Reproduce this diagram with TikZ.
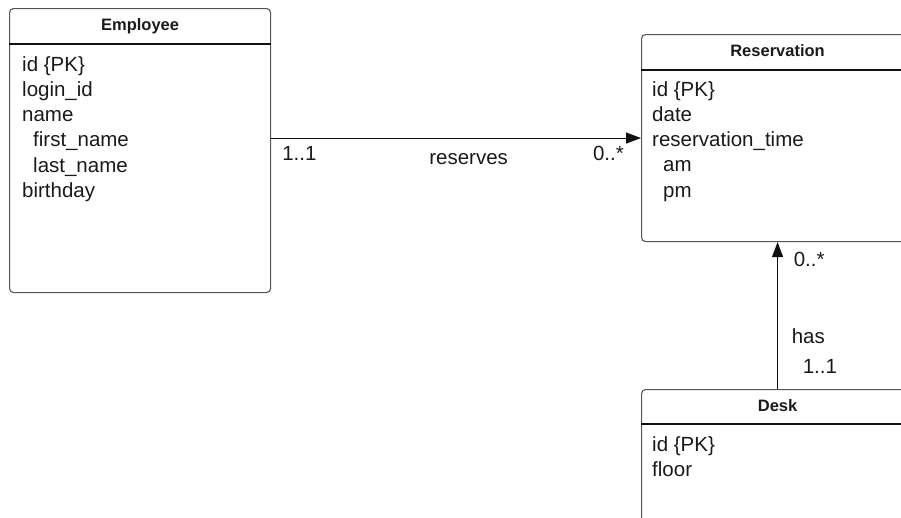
\documentclass[tikz,border=0pt]{standalone}
\usepackage{fontspec}
\setmainfont{Liberation Sans}
\usepackage{xcolor}
\usepackage{tikz}
\usetikzlibrary{arrows.meta,calc}
\definecolor{cText}{HTML}{1a1a1a}
\definecolor{cEdge}{HTML}{555555}
\definecolor{cLine}{HTML}{111111}
\tikzset{
  >={Triangle[length=15pt,width=11pt]},
  ebox/.style={draw=cEdge,line width=1.1pt,rounded corners=4pt,inner sep=0pt,
               anchor=north west},
  ehead/.style={font=\fontsize{16.5pt}{20pt}\selectfont\bfseries,text=cText,
                inner sep=0pt,anchor=base},
  eattr/.style={font=\fontsize{20.5pt}{25.3pt}\selectfont,text=cText,
                align=left,inner sep=0pt,anchor=base west},
  hline/.style={cLine,line width=1.1pt},
  elbl/.style={font=\fontsize{20.5pt}{24pt}\selectfont,text=cText,inner sep=0pt},
  rel/.style={->,cLine,line width=1.1pt},
}
\newcommand{\ind}{\hspace*{11pt}}

\begin{document}
\begin{tikzpicture}[x=1pt,y=-1pt]
        \clip (0,0) rectangle (901,517);
        \node[ebox,minimum width=261pt,minimum height=284pt] (emp) at (9,8) {};
        \node[ebox,minimum width=272pt,minimum height=207pt] (res) at (641,34) {};
        \node[ebox,minimum width=272pt,minimum height=200pt] (desk) at (641,389) {};
        \draw[hline] ([yshift=-36pt]emp.north west) -- ([yshift=-36pt]emp.north east);
        \draw[hline] ([yshift=-36pt]res.north west) -- ([yshift=-36pt]res.north east);
        \draw[hline] ([yshift=-35pt]desk.north west) -- ([yshift=-35pt]desk.north east);
        \node[ehead] (emp-t) at ([yshift=-22pt]emp.north) {Employee};
        \node[ehead] (res-t) at ([yshift=-22pt]res.north) {Reservation};
        \node[ehead] (desk-t) at ([yshift=-22pt]desk.north) {Desk};
        \node[eattr] (emp-a) at ([xshift=13pt,yshift=-189.5pt]emp.north west)
          {id \{PK\}\\login\_id\\name\\\ind first\_name\\\ind last\_name\\birthday};
        \node[eattr] (res-a) at ([xshift=11pt,yshift=-163.2pt]res.north west)
          {id \{PK\}\\date\\reservation\_time\\\ind am\\\ind pm};
        \node[eattr] (desk-a) at ([xshift=11pt,yshift=-87.5pt]desk.north west)
          {id \{PK\}\\floor};
        \draw[rel] (emp.east |- res.west) -- (res.west);
        \draw[rel] (desk.north) -- (desk.north |- res.south);
        \node[elbl,anchor=base west] (m-emp) at ([xshift=11pt,yshift=-10pt]emp.east) {1..1};
        \node[elbl,anchor=base west] (r-lbl) at ([xshift=158pt,yshift=-14pt]emp.east) {reserves};
        \node[elbl,anchor=base east] (m-res) at ([xshift=-17pt,yshift=-22.5pt]res.west) {0..*};
        \node[elbl,anchor=base west] (m-res2) at ([xshift=16pt,yshift=-24pt]res.south) {0..*};
        \node[elbl,anchor=base west] (h-lbl) at ([xshift=14pt,yshift=46pt]desk.north) {has};
        \node[elbl,anchor=base west] (m-desk) at ([xshift=25pt,yshift=16pt]desk.north) {1..1};
      \end{tikzpicture}
\end{document}
